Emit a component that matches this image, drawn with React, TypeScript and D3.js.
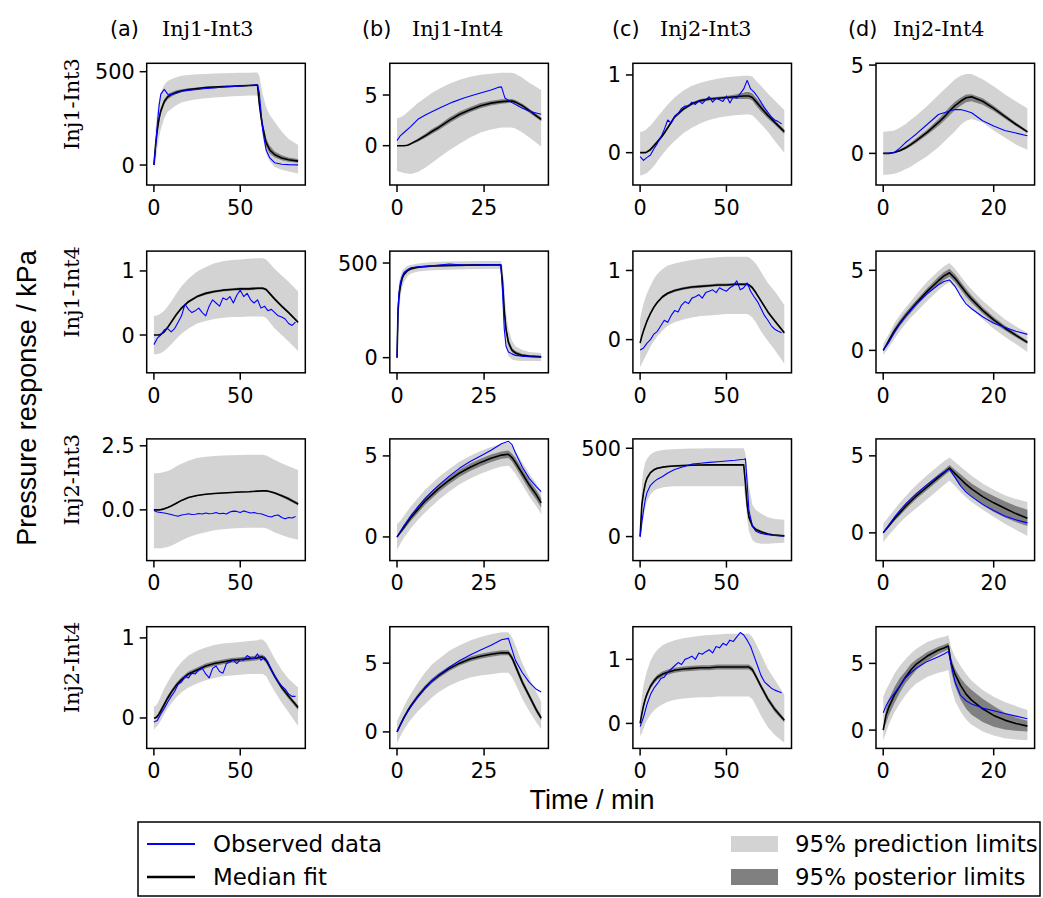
import React from "react";
import * as d3 from "d3";

// ---------- time grids (minutes) ----------
const T_AC = [0, 1, 2, 3, 4, 6, 8, 10, 13, 16, 20, 25, 30, 35, 40, 45, 50, 55, 60, 61, 62, 63, 65, 67, 70, 74, 78, 83.5];
const T_B = [0, 1, 2, 3, 4, 6, 8, 10, 12, 15, 18, 21, 24, 27, 30, 32, 33, 34, 36, 38, 40, 41.4];
const T_D = [0, 1, 2, 3, 4, 5, 6, 8, 10, 11, 12, 13, 14, 15, 16, 18, 20, 22, 24, 26.1];
const T_D4 = [0, 0.5, 1, 2, 3, 4, 5, 6, 8, 10, 11, 11.8, 12.3, 13, 14, 15, 16, 18, 20, 22, 24, 26.1];
const T_N = [0, 2, 4, 6, 8, 10, 12, 14, 16, 18, 20, 22, 24, 26, 28, 30, 32, 34, 36, 38, 40, 42, 44, 46, 48, 50, 52, 54, 56, 58, 60, 62, 64, 66, 68, 70, 72, 74, 76, 78, 80, 82];
const T_R1B_OBS = [0, 1, 2, 4, 6, 8, 10, 13, 16, 19, 22, 25, 27, 29, 30, 31, 33, 36, 38, 41.4];
const T_R2B = [0, 0.3, 0.6, 1, 1.5, 2, 3, 4, 6, 10, 15, 20, 25, 29.8, 30.3, 30.8, 31.3, 32, 33, 34, 36, 38, 41.4];

// ---------- labels ----------
const COL_LETTERS = ["(a)", "(b)", "(c)", "(d)"];
const PAIR_NAMES = ["Inj1-Int3", "Inj1-Int4", "Inj2-Int3", "Inj2-Int4"];
const X_TICKS = [[0, 50], [0, 25], [0, 50], [0, 20]];
const Y_TICKS = [
  [[0, 500], [0, 5], [0, 1], [0, 5]],
  [[0, 1], [0, 500], [0, 1], [0, 5]],
  [[0, 2.5], [0, 5], [0, 500], [0, 5]],
  [[0, 1], [0, 5], [0, 1], [0, 5]],
];
const Y_TICK_LABELS = [
  [["0", "500"], ["0", "5"], ["0", "1"], ["0", "5"]],
  [["0", "1"], ["0", "500"], ["0", "1"], ["0", "5"]],
  [["0.0", "2.5"], ["0", "5"], ["0", "500"], ["0", "5"]],
  [["0", "1"], ["0", "5"], ["0", "1"], ["0", "5"]],
];
const Y_DOMAINS = [
  [[-107, 545], [-3.88, 8.13], [-0.416, 1.15], [-1.79, 5.1]],
  [[-0.59, 1.31], [-80, 563], [-0.48, 1.28], [-1.4, 6.2]],
  [[-1.98, 2.77], [-1.46, 6.05], [-136, 553], [-1.8, 6.1]],
  [[-0.38, 1.14], [-1.2, 7.65], [-0.39, 1.51], [-1.37, 7.75]],
];

// ---------- Row 1 : Inj1-Int3 ----------
const r1a_med = [0, 110, 190, 250, 290, 340, 365, 378, 390, 398, 405, 410, 415, 418, 420, 422, 424, 426, 428, 330, 260, 205, 120, 82, 55, 38, 28, 21];
const r1a_postLo = [0, 95, 172, 232, 273, 326, 352, 366, 380, 390, 398, 404, 409, 413, 416, 418, 420, 422, 424, 310, 238, 182, 98, 62, 40, 26, 18, 12];
const r1a_postHi = [0, 125, 208, 268, 307, 354, 378, 390, 400, 406, 412, 416, 421, 423, 424, 426, 428, 430, 432, 350, 282, 228, 142, 104, 72, 52, 40, 32];
const r1a_predLo = [-20, 20, 90, 150, 190, 250, 285, 300, 320, 335, 345, 352, 358, 362, 365, 368, 370, 372, 372, 330, 220, 150, 60, 20, -10, -25, -35, -45];
const r1a_predHi = [20, 200, 290, 350, 390, 430, 450, 460, 470, 478, 482, 486, 488, 490, 492, 493, 494, 495, 496, 480, 430, 380, 310, 270, 230, 180, 140, 107];
const r1a_obs = [0, 100, 220, 320, 380, 405, 380, 378, 385, 395, 400, 405, 410, 413, 418, 420, 423, 426, 430, 390, 290, 187, 80, 40, 12, 4, 2, 1];

const r1b_med = [0, 0, 0, 0.05, 0.2, 0.55, 0.95, 1.4, 1.8, 2.5, 3.1, 3.55, 3.95, 4.2, 4.35, 4.4, 4.4, 4.3, 3.95, 3.45, 2.95, 2.6];
const r1b_postLo = [0, 0, 0, 0.02, 0.12, 0.4, 0.75, 1.15, 1.55, 2.22, 2.82, 3.3, 3.7, 3.97, 4.13, 4.2, 4.2, 4.1, 3.75, 3.25, 2.75, 2.4];
const r1b_postHi = [0, 0, 0.02, 0.1, 0.3, 0.72, 1.15, 1.65, 2.05, 2.78, 3.38, 3.82, 4.2, 4.43, 4.57, 4.6, 4.6, 4.5, 4.15, 3.65, 3.15, 2.8];
const r1b_predLo = [-2.5, -2.6, -2.7, -2.75, -2.8, -2.6, -2.2, -1.7, -1.2, -0.45, 0.2, 0.8, 1.3, 1.6, 1.8, 1.8, 1.8, 1.7, 1.3, 0.8, 0.3, -0.1];
const r1b_predHi = [2.7, 2.8, 3.0, 3.3, 3.6, 4.2, 4.7, 5.2, 5.6, 6.1, 6.5, 6.8, 7.0, 7.1, 7.2, 7.2, 7.2, 7.1, 6.7, 6.2, 5.8, 5.5];
const r1b_obs = [0.5, 1.0, 1.3, 1.9, 2.6, 3.0, 3.35, 3.85, 4.3, 4.68, 5.0, 5.3, 5.5, 5.75, 5.8, 4.7, 4.25, 3.7, 3.4, 3.1];

const r1c_med = [0, 0, 0, 0, 0.01, 0.04, 0.09, 0.14, 0.22, 0.32, 0.46, 0.56, 0.63, 0.67, 0.69, 0.7, 0.71, 0.72, 0.73, 0.73, 0.73, 0.73, 0.71, 0.66, 0.58, 0.48, 0.39, 0.27];
const r1c_postLo = [0, 0, 0, 0, 0, 0.02, 0.07, 0.12, 0.2, 0.3, 0.44, 0.54, 0.61, 0.65, 0.67, 0.68, 0.69, 0.69, 0.69, 0.69, 0.69, 0.69, 0.67, 0.61, 0.53, 0.44, 0.36, 0.24];
const r1c_postHi = [0, 0, 0, 0.01, 0.02, 0.06, 0.11, 0.16, 0.24, 0.34, 0.48, 0.58, 0.65, 0.69, 0.71, 0.72, 0.73, 0.75, 0.77, 0.78, 0.78, 0.78, 0.76, 0.71, 0.63, 0.52, 0.42, 0.3];
const r1c_predLo = [-0.29, -0.29, -0.28, -0.27, -0.26, -0.22, -0.17, -0.11, -0.02, 0.06, 0.15, 0.25, 0.32, 0.38, 0.42, 0.45, 0.47, 0.48, 0.49, 0.49, 0.49, 0.49, 0.48, 0.44, 0.37, 0.27, 0.15, 0.0];
const r1c_predHi = [0.27, 0.27, 0.28, 0.29, 0.31, 0.35, 0.4, 0.46, 0.54, 0.62, 0.71, 0.8, 0.86, 0.9, 0.93, 0.95, 0.97, 0.98, 0.99, 0.99, 0.99, 0.99, 0.98, 0.93, 0.86, 0.76, 0.67, 0.55];
const r1c_obs = [-0.05, -0.1, -0.06, -0.03, 0.05, 0.12, 0.2, 0.3, 0.42, 0.38, 0.47, 0.5, 0.57, 0.6, 0.6, 0.65, 0.62, 0.67, 0.63, 0.68, 0.72, 0.65, 0.7, 0.68, 0.66, 0.73, 0.64, 0.72, 0.7, 0.76, 0.82, 0.93, 0.82, 0.78, 0.72, 0.65, 0.58, 0.52, 0.46, 0.42, 0.4, 0.37];

const r1d_med = [0, 0, 0.05, 0.15, 0.3, 0.5, 0.72, 1.2, 1.75, 2.05, 2.4, 2.7, 2.95, 3.15, 3.2, 2.95, 2.55, 2.1, 1.65, 1.22];
const r1d_postLo = [0, 0, 0.02, 0.1, 0.22, 0.4, 0.6, 1.05, 1.55, 1.83, 2.15, 2.45, 2.7, 2.9, 2.95, 2.75, 2.4, 1.98, 1.55, 1.15];
const r1d_postHi = [0, 0.02, 0.1, 0.22, 0.4, 0.62, 0.85, 1.35, 1.95, 2.27, 2.62, 2.93, 3.15, 3.33, 3.35, 3.12, 2.7, 2.22, 1.75, 1.3];
const r1d_predLo = [-1.23, -1.2, -1.15, -1.05, -0.9, -0.75, -0.55, -0.15, 0.35, 0.65, 0.95, 1.25, 1.6, 1.85, 1.95, 1.75, 1.3, 0.9, 0.5, 0.2];
const r1d_predHi = [1.23, 1.25, 1.3, 1.45, 1.65, 1.9, 2.15, 2.7, 3.3, 3.6, 3.9, 4.2, 4.4, 4.5, 4.5, 4.2, 3.8, 3.35, 2.95, 2.55];
const r1d_obs = [0, 0, 0.05, 0.3, 0.6, 0.85, 1.1, 1.65, 2.2, 2.3, 2.4, 2.48, 2.48, 2.4, 2.3, 1.85, 1.55, 1.3, 1.15, 1.0];

// ---------- Row 2 : Inj1-Int4 ----------
const r2a_med = [0, 0, 0, 0, 0.01, 0.05, 0.12, 0.2, 0.32, 0.42, 0.52, 0.6, 0.65, 0.68, 0.7, 0.71, 0.72, 0.72, 0.73, 0.73, 0.73, 0.73, 0.71, 0.65, 0.56, 0.45, 0.35, 0.2];
const r2a_postLo = [0, 0, 0, 0, 0, 0.03, 0.1, 0.18, 0.3, 0.4, 0.5, 0.58, 0.63, 0.66, 0.68, 0.69, 0.7, 0.7, 0.71, 0.71, 0.71, 0.71, 0.69, 0.63, 0.54, 0.43, 0.33, 0.18];
const r2a_postHi = [0, 0, 0, 0, 0.02, 0.07, 0.14, 0.22, 0.34, 0.44, 0.54, 0.62, 0.67, 0.7, 0.72, 0.73, 0.74, 0.74, 0.75, 0.75, 0.75, 0.75, 0.73, 0.67, 0.58, 0.47, 0.37, 0.22];
const r2a_predLo = [-0.3, -0.3, -0.3, -0.29, -0.28, -0.25, -0.2, -0.15, -0.06, 0.02, 0.1, 0.18, 0.22, 0.25, 0.27, 0.28, 0.28, 0.29, 0.29, 0.29, 0.29, 0.29, 0.27, 0.2, 0.1, 0.0, -0.1, -0.25];
const r2a_predHi = [0.3, 0.3, 0.31, 0.32, 0.34, 0.38, 0.45, 0.52, 0.65, 0.76, 0.88, 0.99, 1.06, 1.12, 1.15, 1.17, 1.18, 1.19, 1.2, 1.2, 1.2, 1.2, 1.18, 1.12, 1.03, 0.93, 0.83, 0.68];
const r2a_obs = [-0.15, -0.05, 0.0, 0.08, 0.1, 0.05, 0.1, 0.2, 0.3, 0.48, 0.4, 0.35, 0.38, 0.42, 0.35, 0.3, 0.45, 0.55, 0.5, 0.45, 0.58, 0.55, 0.6, 0.5, 0.62, 0.7, 0.6, 0.65, 0.55, 0.5, 0.55, 0.42, 0.45, 0.38, 0.4, 0.35, 0.3, 0.28, 0.25, 0.18, 0.15, 0.2];

const r2b_med = [0, 250, 330, 380, 420, 440, 460, 470, 478, 484, 487, 489, 490, 490, 400, 250, 150, 80, 40, 25, 12, 8, 5];
const r2b_postLo = [0, 230, 315, 368, 410, 432, 452, 463, 472, 479, 482, 484, 485, 485, 380, 225, 128, 62, 28, 15, 5, 2, 0];
const r2b_postHi = [0, 270, 345, 392, 430, 448, 468, 477, 484, 489, 492, 494, 495, 495, 420, 275, 172, 98, 52, 35, 19, 14, 10];
const r2b_predLo = [-20, 150, 250, 320, 370, 400, 430, 445, 455, 462, 465, 467, 468, 468, 300, 150, 60, 10, -10, -15, -18, -18, -18];
const r2b_predHi = [20, 330, 400, 430, 460, 470, 485, 490, 498, 505, 508, 510, 511, 511, 480, 380, 240, 150, 90, 60, 40, 30, 25];
const r2b_obs = [0, 260, 350, 400, 430, 450, 465, 475, 480, 485, 495, 488, 490, 490, 350, 150, 60, 30, 20, 12, 8, 5, 3];

const r2c_med = [-0.05, 0.05, 0.13, 0.2, 0.27, 0.38, 0.47, 0.54, 0.62, 0.67, 0.71, 0.74, 0.76, 0.77, 0.78, 0.79, 0.79, 0.8, 0.8, 0.8, 0.8, 0.79, 0.75, 0.68, 0.56, 0.4, 0.27, 0.1];
const r2c_postLo = [-0.07, 0.03, 0.11, 0.18, 0.25, 0.36, 0.45, 0.52, 0.6, 0.65, 0.69, 0.72, 0.74, 0.75, 0.76, 0.77, 0.77, 0.78, 0.78, 0.78, 0.78, 0.77, 0.73, 0.66, 0.54, 0.38, 0.25, 0.08];
const r2c_postHi = [-0.03, 0.07, 0.15, 0.22, 0.29, 0.4, 0.49, 0.56, 0.64, 0.69, 0.73, 0.76, 0.78, 0.79, 0.8, 0.81, 0.81, 0.82, 0.82, 0.82, 0.82, 0.81, 0.77, 0.7, 0.58, 0.42, 0.29, 0.12];
const r2c_predLo = [-0.4, -0.35, -0.3, -0.25, -0.2, -0.1, -0.02, 0.05, 0.13, 0.2, 0.25, 0.29, 0.32, 0.34, 0.35, 0.36, 0.37, 0.37, 0.37, 0.37, 0.37, 0.36, 0.32, 0.25, 0.12, -0.02, -0.15, -0.35];
const r2c_predHi = [0.3, 0.42, 0.52, 0.6, 0.67, 0.78, 0.88, 0.95, 1.02, 1.07, 1.1, 1.13, 1.15, 1.17, 1.18, 1.19, 1.2, 1.2, 1.2, 1.2, 1.2, 1.19, 1.15, 1.1, 0.98, 0.82, 0.7, 0.5];
const r2c_obs = [-0.15, -0.12, -0.05, 0.0, 0.08, 0.12, 0.2, 0.28, 0.25, 0.35, 0.42, 0.4, 0.5, 0.55, 0.52, 0.6, 0.62, 0.65, 0.6, 0.68, 0.7, 0.72, 0.68, 0.75, 0.72, 0.7, 0.75, 0.78, 0.85, 0.72, 0.75, 0.82, 0.7, 0.62, 0.55, 0.45, 0.35, 0.28, 0.2, 0.15, 0.12, 0.1];

const r2d_med = [0, 0.6, 1.2, 1.7, 2.15, 2.55, 2.95, 3.7, 4.35, 4.65, 4.85, 4.5, 4.05, 3.6, 3.2, 2.5, 1.9, 1.4, 0.95, 0.5];
const r2d_postLo = [0, 0.45, 1.0, 1.5, 1.95, 2.35, 2.75, 3.5, 4.1, 4.4, 4.6, 4.25, 3.8, 3.35, 2.97, 2.3, 1.72, 1.25, 0.82, 0.4];
const r2d_postHi = [0, 0.75, 1.4, 1.9, 2.35, 2.75, 3.15, 3.9, 4.6, 4.9, 5.1, 4.75, 4.3, 3.85, 3.43, 2.7, 2.08, 1.55, 1.08, 0.6];
const r2d_predLo = [-0.3, 0.2, 0.7, 1.2, 1.65, 2.05, 2.4, 3.1, 3.75, 4.05, 4.25, 3.9, 3.45, 3.0, 2.6, 1.95, 1.35, 0.85, 0.4, -0.1];
const r2d_predHi = [0.4, 1.0, 1.7, 2.2, 2.65, 3.05, 3.5, 4.3, 4.95, 5.25, 5.45, 5.1, 4.65, 4.2, 3.8, 3.1, 2.5, 1.95, 1.5, 1.1];
const r2d_obs = [0, 0.5, 1.1, 1.65, 2.1, 2.5, 2.9, 3.55, 4.1, 4.3, 4.4, 4.0, 3.4, 2.9, 2.6, 2.1, 1.7, 1.45, 1.2, 1.0];

// ---------- Row 3 : Inj2-Int3 ----------
const r3a_med = [0, 0, 0, 0, 0.01, 0.04, 0.09, 0.15, 0.26, 0.37, 0.48, 0.56, 0.61, 0.64, 0.66, 0.68, 0.7, 0.71, 0.73, 0.73, 0.74, 0.74, 0.74, 0.72, 0.66, 0.55, 0.43, 0.23];
const r3a_postLo = [0, 0, 0, 0, 0, 0.02, 0.07, 0.13, 0.24, 0.35, 0.46, 0.54, 0.59, 0.62, 0.64, 0.66, 0.68, 0.69, 0.71, 0.71, 0.72, 0.72, 0.72, 0.69, 0.62, 0.5, 0.37, 0.17];
const r3a_postHi = [0, 0, 0, 0, 0.02, 0.06, 0.11, 0.17, 0.28, 0.39, 0.5, 0.58, 0.63, 0.66, 0.68, 0.7, 0.72, 0.73, 0.75, 0.75, 0.76, 0.76, 0.76, 0.75, 0.7, 0.6, 0.49, 0.29];
const r3a_predLo = [-1.5, -1.5, -1.5, -1.5, -1.5, -1.48, -1.45, -1.4, -1.3, -1.2, -1.07, -0.95, -0.87, -0.8, -0.76, -0.73, -0.71, -0.7, -0.7, -0.7, -0.7, -0.7, -0.72, -0.78, -0.88, -0.98, -1.08, -1.17];
const r3a_predHi = [1.43, 1.43, 1.43, 1.44, 1.45, 1.48, 1.52, 1.58, 1.7, 1.8, 1.92, 2.02, 2.07, 2.1, 2.12, 2.13, 2.14, 2.15, 2.15, 2.15, 2.15, 2.15, 2.12, 2.05, 1.95, 1.82, 1.7, 1.56];
const r3a_obs = [-0.02, -0.08, -0.1, -0.12, -0.15, -0.18, -0.22, -0.25, -0.2, -0.18, -0.15, -0.18, -0.17, -0.14, -0.16, -0.12, -0.15, -0.14, -0.1, -0.15, -0.13, -0.16, -0.08, -0.05, -0.06, -0.1, -0.04, -0.08, -0.12, -0.1, -0.14, -0.15, -0.2, -0.25, -0.28, -0.22, -0.2, -0.3, -0.35, -0.3, -0.32, -0.26];

const r3b_med = [0, 0.3, 0.6, 0.9, 1.2, 1.7, 2.2, 2.6, 3.0, 3.5, 3.95, 4.3, 4.6, 4.85, 5.05, 5.1, 4.9, 4.6, 3.9, 3.2, 2.6, 2.1];
const r3b_postLo = [0, 0.2, 0.45, 0.72, 1.0, 1.48, 1.97, 2.37, 2.77, 3.27, 3.72, 4.07, 4.37, 4.62, 4.82, 4.87, 4.65, 4.32, 3.6, 2.9, 2.3, 1.8];
const r3b_postHi = [0, 0.4, 0.75, 1.08, 1.4, 1.92, 2.43, 2.83, 3.23, 3.73, 4.18, 4.53, 4.83, 5.08, 5.28, 5.33, 5.15, 4.88, 4.2, 3.5, 2.9, 2.4];
const r3b_predLo = [-0.8, -0.4, -0.05, 0.25, 0.55, 1.05, 1.5, 1.9, 2.3, 2.8, 3.25, 3.6, 3.9, 4.15, 4.35, 4.4, 4.2, 3.9, 3.2, 2.5, 1.9, 1.4];
const r3b_predHi = [0.8, 1.0, 1.3, 1.6, 1.9, 2.4, 2.9, 3.3, 3.7, 4.2, 4.65, 5.0, 5.3, 5.55, 5.75, 5.8, 5.6, 5.3, 4.6, 3.9, 3.3, 2.8];
const r3b_obs = [0, 0.35, 0.7, 1.0, 1.3, 1.85, 2.35, 2.8, 3.2, 3.75, 4.25, 4.65, 5.0, 5.35, 5.75, 5.9, 5.7, 5.2, 4.3, 3.6, 3.1, 2.8];

const r3c_med = [0, 180, 250, 300, 330, 362, 378, 387, 393, 397, 400, 402, 404, 405, 406, 406, 406, 406, 406, 300, 180, 110, 60, 40, 27, 15, 8, 4];
const r3c_postLo = [0, 160, 235, 288, 320, 355, 372, 382, 388, 392, 395, 397, 399, 400, 401, 401, 401, 401, 401, 280, 160, 95, 50, 32, 20, 10, 4, 1];
const r3c_postHi = [0, 200, 265, 312, 340, 369, 384, 392, 398, 402, 405, 407, 409, 410, 411, 411, 411, 411, 411, 320, 200, 125, 70, 48, 34, 20, 12, 7];
const r3c_predLo = [-30, 40, 110, 160, 200, 240, 260, 270, 278, 282, 285, 285, 285, 285, 285, 285, 285, 285, 285, 200, 100, 30, -20, -35, -40, -40, -38, -35];
const r3c_predHi = [30, 300, 380, 420, 440, 465, 478, 485, 490, 493, 495, 497, 498, 499, 500, 500, 500, 500, 500, 470, 380, 290, 180, 150, 130, 110, 100, 95];
const r3c_obs = [0, 80, 150, 210, 250, 290, 310, 325, 340, 360, 380, 395, 410, 415, 420, 424, 428, 432, 438, 440, 300, 150, 60, 30, 18, 10, 6, 3];

const r3d_med = [0, 0.45, 0.9, 1.3, 1.7, 2.05, 2.4, 3.0, 3.6, 3.9, 4.2, 3.85, 3.5, 3.15, 2.85, 2.35, 1.95, 1.6, 1.25, 0.95];
const r3d_postLo = [0, 0.35, 0.75, 1.12, 1.5, 1.85, 2.2, 2.8, 3.4, 3.7, 4.0, 3.55, 3.1, 2.7, 2.35, 1.8, 1.35, 1.0, 0.7, 0.45];
const r3d_postHi = [0, 0.55, 1.05, 1.48, 1.9, 2.25, 2.6, 3.2, 3.8, 4.1, 4.4, 4.1, 3.8, 3.5, 3.2, 2.75, 2.4, 2.05, 1.75, 1.5];
const r3d_predLo = [-0.6, -0.15, 0.25, 0.65, 1.0, 1.3, 1.6, 2.2, 2.8, 3.1, 3.4, 3.05, 2.65, 2.3, 2.0, 1.5, 1.05, 0.6, 0.2, -0.2];
const r3d_predHi = [0.6, 1.05, 1.5, 1.95, 2.35, 2.75, 3.1, 3.75, 4.35, 4.65, 4.9, 4.6, 4.3, 4.0, 3.7, 3.2, 2.8, 2.45, 2.2, 2.0];
const r3d_obs = [0, 0.5, 1.0, 1.45, 1.85, 2.2, 2.55, 3.15, 3.7, 3.95, 4.15, 3.6, 3.05, 2.65, 2.35, 1.85, 1.45, 1.1, 0.85, 0.65];

// ---------- Row 4 : Inj2-Int4 ----------
const r4a_med = [0, 0, 0.02, 0.05, 0.09, 0.17, 0.25, 0.32, 0.41, 0.48, 0.55, 0.6, 0.65, 0.68, 0.7, 0.72, 0.73, 0.74, 0.75, 0.76, 0.76, 0.76, 0.72, 0.64, 0.52, 0.38, 0.27, 0.13];
const r4a_postLo = [0, 0, 0, 0.03, 0.06, 0.14, 0.22, 0.29, 0.38, 0.45, 0.52, 0.57, 0.62, 0.65, 0.67, 0.69, 0.7, 0.71, 0.72, 0.73, 0.73, 0.73, 0.69, 0.61, 0.49, 0.35, 0.24, 0.1];
const r4a_postHi = [0, 0.02, 0.04, 0.08, 0.12, 0.2, 0.28, 0.35, 0.44, 0.51, 0.58, 0.63, 0.68, 0.71, 0.73, 0.75, 0.76, 0.77, 0.78, 0.79, 0.79, 0.79, 0.75, 0.67, 0.55, 0.41, 0.3, 0.16];
const r4a_predLo = [-0.15, -0.12, -0.1, -0.07, -0.03, 0.05, 0.12, 0.18, 0.26, 0.32, 0.38, 0.43, 0.47, 0.5, 0.52, 0.53, 0.54, 0.55, 0.55, 0.55, 0.55, 0.55, 0.52, 0.44, 0.33, 0.19, 0.07, -0.1];
const r4a_predHi = [0.15, 0.15, 0.18, 0.22, 0.27, 0.37, 0.45, 0.52, 0.62, 0.7, 0.78, 0.84, 0.88, 0.91, 0.93, 0.94, 0.95, 0.96, 0.97, 0.98, 0.98, 0.98, 0.94, 0.86, 0.74, 0.6, 0.49, 0.38];
const r4a_obs = [-0.05, -0.03, 0.05, 0.12, 0.2, 0.27, 0.33, 0.42, 0.45, 0.52, 0.5, 0.56, 0.55, 0.6, 0.62, 0.55, 0.5, 0.62, 0.65, 0.58, 0.56, 0.68, 0.7, 0.72, 0.68, 0.73, 0.72, 0.78, 0.75, 0.74, 0.8, 0.72, 0.76, 0.7, 0.6, 0.52, 0.45, 0.4, 0.36, 0.3, 0.27, 0.27];

const r4b_med = [0, 0.55, 1.05, 1.5, 1.9, 2.6, 3.2, 3.7, 4.1, 4.6, 5.0, 5.3, 5.5, 5.65, 5.75, 5.75, 5.4, 4.8, 3.6, 2.6, 1.6, 1.0];
const r4b_postLo = [0, 0.45, 0.92, 1.35, 1.75, 2.43, 3.02, 3.52, 3.92, 4.42, 4.82, 5.12, 5.32, 5.47, 5.57, 5.57, 5.2, 4.58, 3.38, 2.4, 1.4, 0.82];
const r4b_postHi = [0, 0.65, 1.18, 1.65, 2.05, 2.77, 3.38, 3.88, 4.28, 4.78, 5.18, 5.48, 5.68, 5.83, 5.93, 5.93, 5.6, 5.02, 3.82, 2.8, 1.8, 1.18];
const r4b_predLo = [-0.8, -0.3, 0.15, 0.55, 0.9, 1.5, 2.0, 2.5, 2.9, 3.35, 3.7, 3.95, 4.1, 4.2, 4.3, 4.3, 4.0, 3.5, 2.4, 1.5, 0.7, 0.2];
const r4b_predHi = [0.8, 1.3, 1.85, 2.35, 2.8, 3.6, 4.3, 4.9, 5.3, 5.9, 6.3, 6.65, 6.9, 7.1, 7.25, 7.25, 6.9, 6.3, 5.0, 3.9, 2.9, 2.2];
const r4b_obs = [0, 0.5, 1.0, 1.45, 1.85, 2.55, 3.15, 3.7, 4.15, 4.7, 5.2, 5.6, 5.95, 6.3, 6.7, 6.8, 6.0, 5.2, 4.3, 3.6, 3.1, 2.9];

const r4c_med = [0, 0.15, 0.28, 0.38, 0.46, 0.58, 0.66, 0.72, 0.77, 0.8, 0.83, 0.85, 0.86, 0.87, 0.87, 0.88, 0.88, 0.88, 0.88, 0.88, 0.88, 0.88, 0.84, 0.74, 0.58, 0.38, 0.22, 0.05];
const r4c_postLo = [0, 0.12, 0.24, 0.34, 0.42, 0.54, 0.62, 0.68, 0.73, 0.76, 0.79, 0.81, 0.82, 0.83, 0.83, 0.84, 0.84, 0.84, 0.84, 0.84, 0.84, 0.84, 0.8, 0.7, 0.54, 0.34, 0.18, 0.02];
const r4c_postHi = [0, 0.18, 0.32, 0.42, 0.5, 0.62, 0.7, 0.76, 0.81, 0.84, 0.87, 0.89, 0.9, 0.91, 0.91, 0.92, 0.92, 0.92, 0.92, 0.92, 0.92, 0.92, 0.88, 0.78, 0.62, 0.42, 0.26, 0.08];
const r4c_predLo = [-0.2, -0.15, -0.08, 0.0, 0.05, 0.14, 0.2, 0.25, 0.3, 0.34, 0.37, 0.39, 0.4, 0.41, 0.41, 0.42, 0.42, 0.42, 0.42, 0.42, 0.42, 0.42, 0.38, 0.28, 0.12, -0.06, -0.18, -0.3];
const r4c_predHi = [0.2, 0.42, 0.6, 0.72, 0.82, 0.98, 1.08, 1.15, 1.22, 1.26, 1.3, 1.33, 1.35, 1.37, 1.38, 1.39, 1.4, 1.4, 1.4, 1.4, 1.4, 1.4, 1.35, 1.25, 1.08, 0.85, 0.68, 0.45];
const r4c_obs = [-0.05, 0.1, 0.3, 0.45, 0.55, 0.62, 0.7, 0.72, 0.8, 0.85, 0.9, 0.95, 0.92, 1.0, 1.02, 1.05, 1.0, 1.1, 1.08, 1.12, 1.15, 1.1, 1.2, 1.18, 1.25, 1.22, 1.3, 1.28, 1.35, 1.42, 1.38, 1.3, 1.2, 1.05, 0.9, 0.75, 0.65, 0.6, 0.55, 0.52, 0.5, 0.48];

const r4d_med = [0, 1.1, 1.7, 2.6, 3.3, 3.95, 4.5, 4.95, 5.55, 6.0, 6.15, 6.3, 5.0, 4.2, 3.35, 2.7, 2.25, 1.6, 1.1, 0.75, 0.5, 0.3];
const r4d_postLo = [0, 0.5, 1.1, 2.0, 2.8, 3.5, 4.0, 4.5, 5.2, 5.7, 5.9, 6.05, 4.4, 3.3, 2.3, 1.6, 1.15, 0.6, 0.25, 0.05, -0.05, -0.1];
const r4d_postHi = [0, 1.6, 2.3, 3.2, 3.9, 4.4, 4.95, 5.3, 5.85, 6.25, 6.4, 6.55, 5.4, 4.6, 3.9, 3.4, 3.0, 2.35, 1.8, 1.3, 0.95, 0.7];
const r4d_predLo = [-0.75, -0.2, 0.4, 1.3, 2.0, 2.6, 3.1, 3.5, 4.0, 4.3, 4.4, 4.5, 3.2, 2.2, 1.4, 0.8, 0.4, -0.1, -0.4, -0.6, -0.7, -0.75];
const r4d_predHi = [2.5, 3.0, 3.4, 4.2, 4.8, 5.3, 5.75, 6.1, 6.6, 6.9, 7.0, 7.1, 6.2, 5.5, 4.8, 4.2, 3.7, 3.0, 2.5, 2.1, 1.8, 1.5];
const r4d_obs = [1.3, 1.8, 2.2, 2.75, 3.3, 3.9, 4.3, 4.65, 5.15, 5.5, 5.7, 5.9, 4.9, 3.6, 2.6, 2.2, 1.95, 1.65, 1.45, 1.25, 1.05, 0.85];

// ---------- assemble panels ----------
type PanelData = {
  t: number[]; med: number[]; postLo: number[]; postHi: number[];
  predLo: number[]; predHi: number[]; tObs: number[]; obs: number[]; xMax: number;
};
const mk = (t: number[], med: number[], postLo: number[], postHi: number[], predLo: number[], predHi: number[], tObs: number[], obs: number[]): PanelData =>
  ({ t, med, postLo, postHi, predLo, predHi, tObs, obs, xMax: t[t.length - 1] });

const PANELS: PanelData[][] = [
  [
    mk(T_AC, r1a_med, r1a_postLo, r1a_postHi, r1a_predLo, r1a_predHi, T_AC, r1a_obs),
    mk(T_B, r1b_med, r1b_postLo, r1b_postHi, r1b_predLo, r1b_predHi, T_R1B_OBS, r1b_obs),
    mk(T_AC, r1c_med, r1c_postLo, r1c_postHi, r1c_predLo, r1c_predHi, T_N, r1c_obs),
    mk(T_D, r1d_med, r1d_postLo, r1d_postHi, r1d_predLo, r1d_predHi, T_D, r1d_obs),
  ],
  [
    mk(T_AC, r2a_med, r2a_postLo, r2a_postHi, r2a_predLo, r2a_predHi, T_N, r2a_obs),
    mk(T_R2B, r2b_med, r2b_postLo, r2b_postHi, r2b_predLo, r2b_predHi, T_R2B, r2b_obs),
    mk(T_AC, r2c_med, r2c_postLo, r2c_postHi, r2c_predLo, r2c_predHi, T_N, r2c_obs),
    mk(T_D, r2d_med, r2d_postLo, r2d_postHi, r2d_predLo, r2d_predHi, T_D, r2d_obs),
  ],
  [
    mk(T_AC, r3a_med, r3a_postLo, r3a_postHi, r3a_predLo, r3a_predHi, T_N, r3a_obs),
    mk(T_B, r3b_med, r3b_postLo, r3b_postHi, r3b_predLo, r3b_predHi, T_B, r3b_obs),
    mk(T_AC, r3c_med, r3c_postLo, r3c_postHi, r3c_predLo, r3c_predHi, T_AC, r3c_obs),
    mk(T_D, r3d_med, r3d_postLo, r3d_postHi, r3d_predLo, r3d_predHi, T_D, r3d_obs),
  ],
  [
    mk(T_AC, r4a_med, r4a_postLo, r4a_postHi, r4a_predLo, r4a_predHi, T_N, r4a_obs),
    mk(T_B, r4b_med, r4b_postLo, r4b_postHi, r4b_predLo, r4b_predHi, T_B, r4b_obs),
    mk(T_AC, r4c_med, r4c_postLo, r4c_postHi, r4c_predLo, r4c_predHi, T_N, r4c_obs),
    mk(T_D4, r4d_med, r4d_postLo, r4d_postHi, r4d_predLo, r4d_predHi, T_D4, r4d_obs),
  ],
];

// ---------- layout ----------
const W = 1043, H = 898;
const PANEL_X0 = 146.7, PANEL_DX = 243.1;
const PANEL_Y0 = 63.3, PANEL_DY = 187.8;
const PW = 158.6, PH = 121.7;
const TICK_FONT = "'DejaVu Sans', sans-serif";
const NAME_FONT = "'DejaVu Serif', serif";
const LABEL_FONT = "'Liberation Sans', Arial, sans-serif";
const FS = 20.8;
const NAME_FS = 20.8;
const TICK_LEN = 7;
const LIGHT = "#d3d3d3";
const DARK = "#808080";
const BLUE = "#0000ff";
const TITLE_LETTER_X = [110, 362, 612, 848];
const TITLE_NAME_X = [162, 412, 660, 893];

type Pt = { x: number; lo: number; hi: number };

function Panel({ data, r, c }: { data: PanelData; r: number; c: number }) {
  const left = PANEL_X0 + c * PANEL_DX;
  const top = PANEL_Y0 + r * PANEL_DY;
  const xs = d3.scaleLinear().domain([-0.05 * data.xMax, 1.05 * data.xMax]).range([0, PW]);
  const ys = d3.scaleLinear().domain(Y_DOMAINS[r][c]).range([PH, 0]);
  const pred: Pt[] = data.t.map((t, i) => ({ x: t, lo: data.predLo[i], hi: data.predHi[i] }));
  const post: Pt[] = data.t.map((t, i) => ({ x: t, lo: data.postLo[i], hi: data.postHi[i] }));
  const area = d3.area<Pt>().x((d) => xs(d.x)).y0((d) => ys(d.lo)).y1((d) => ys(d.hi));
  const line = d3.line<[number, number]>().x((d) => xs(d[0])).y((d) => ys(d[1]));
  const medPts: [number, number][] = data.t.map((t, i) => [t, data.med[i]]);
  const m = Math.min(data.tObs.length, data.obs.length);
  const obsPts: [number, number][] = data.tObs.slice(0, m).map((t, i) => [t, data.obs[i]]);
  const clipId = `clip-${r}-${c}`;
  const yt = Y_TICKS[r][c];
  const ytl = Y_TICK_LABELS[r][c];
  const [d0, d1] = Y_DOMAINS[r][c];
  return (
    <g transform={`translate(${left},${top})`}>
      <defs>
        <clipPath id={clipId}>
          <rect x={0} y={0} width={PW} height={PH} />
        </clipPath>
      </defs>
      <g clipPath={`url(#${clipId})`}>
        <path d={area(pred) || ""} fill={LIGHT} stroke="none" />
        <path d={area(post) || ""} fill={DARK} stroke="none" />
        <path d={line(medPts) || ""} fill="none" stroke="#000" strokeWidth={1.6} strokeLinejoin="round" />
        <path d={line(obsPts) || ""} fill="none" stroke={BLUE} strokeWidth={1.1} strokeLinejoin="round" />
      </g>
      <rect x={0} y={0} width={PW} height={PH} fill="none" stroke="#000" strokeWidth={1.5} />
      {X_TICKS[c].map((v) => (
        <g key={`x${v}`} transform={`translate(${xs(v)},${PH})`}>
          <line y1={0} y2={TICK_LEN} stroke="#000" strokeWidth={1.5} />
          <text y={TICK_LEN + 7 + FS * 0.76} textAnchor="middle" fontFamily={TICK_FONT} fontSize={FS}>
            {String(v)}
          </text>
        </g>
      ))}
      {yt.map((v, i) =>
        v >= d0 && v <= d1 ? (
          <g key={`y${v}`} transform={`translate(0,${ys(v)})`}>
            <line x1={0} x2={-TICK_LEN} stroke="#000" strokeWidth={1.5} />
            <text x={-TICK_LEN - 5} dy="0.36em" textAnchor="end" fontFamily={TICK_FONT} fontSize={FS}>
              {ytl[i]}
            </text>
          </g>
        ) : null
      )}
    </g>
  );
}

export default function App() {
  const legendX = 138, legendY = 822, legendW = 902, legendH = 74;
  return (
    <svg width={W} height={H} viewBox={`0 0 ${W} ${H}`} style={{ position: "absolute", left: 0, top: 0, display: "block", background: "#fff" }}>
      <rect x={0} y={0} width={W} height={H} fill="#fff" />
      {/* column titles */}
      {COL_LETTERS.map((l, c) => (
        <g key={`ct${c}`}>
          <text x={TITLE_LETTER_X[c]} y={36} fontFamily={TICK_FONT} fontSize={FS}>{l}</text>
          <text x={TITLE_NAME_X[c]} y={36} fontFamily={NAME_FONT} fontSize={NAME_FS}>{PAIR_NAMES[c]}</text>
        </g>
      ))}
      {/* row labels */}
      {PAIR_NAMES.map((name, r) => {
        const cy = PANEL_Y0 + r * PANEL_DY + PH / 2 - 20;
        return (
          <text key={`rl${r}`} transform={`translate(79,${cy}) rotate(-90)`} textAnchor="middle" fontFamily={NAME_FONT} fontSize={NAME_FS}>
            {name}
          </text>
        );
      })}
      {PANELS.map((row, r) => row.map((p, c) => <Panel key={`p${r}${c}`} data={p} r={r} c={c} />))}
      {/* axis labels */}
      <text transform={`translate(36,398) rotate(-90)`} textAnchor="middle" fontFamily={LABEL_FONT} fontSize={27}>
        Pressure response / kPa
      </text>
      <text x={592} y={809} textAnchor="middle" fontFamily={LABEL_FONT} fontSize={27}>
        Time / min
      </text>
      {/* legend */}
      <rect x={legendX} y={legendY} width={legendW} height={legendH} fill="#fff" stroke="#000" strokeWidth={1.5} />
      <line x1={147} x2={195} y1={844} y2={844} stroke={BLUE} strokeWidth={2.2} />
      <line x1={147} x2={195} y1={877} y2={877} stroke="#000" strokeWidth={2.4} />
      <text x={213} y={852} fontFamily={TICK_FONT} fontSize={22.9}>Observed data</text>
      <text x={213} y={885} fontFamily={TICK_FONT} fontSize={22.9}>Median fit</text>
      <rect x={731} y={836} width={47} height={16} fill={LIGHT} />
      <rect x={731} y={869} width={47} height={16} fill={DARK} />
      <text x={795} y={852} fontFamily={TICK_FONT} fontSize={22.9}>95% prediction limits</text>
      <text x={795} y={885} fontFamily={TICK_FONT} fontSize={22.9}>95% posterior limits</text>
    </svg>
  );
}
